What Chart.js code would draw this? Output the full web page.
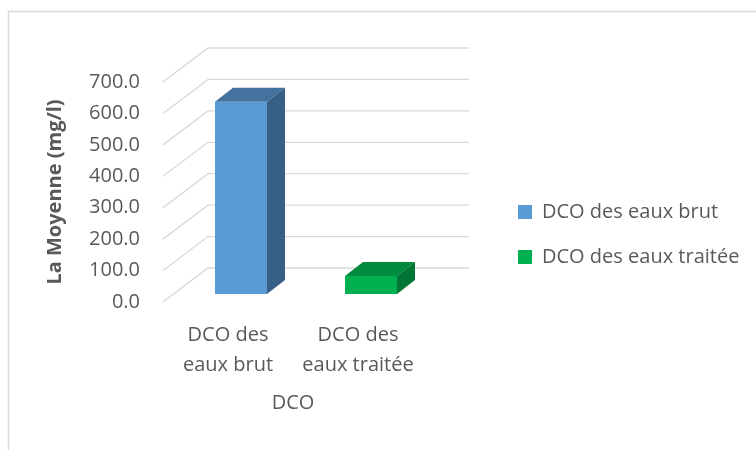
<!DOCTYPE html>
<html>
<head>
<meta charset="utf-8">
<script src="https://cdn.jsdelivr.net/npm/chart.js@4/dist/chart.umd.min.js"></script>
<style>
  html, body { margin: 0; padding: 0; background: #fff; }
  #wrap { width: 756px; height: 450px; }
</style>
</head>
<body>
<div id="wrap"><canvas id="dcoChart"></canvas></div>
<script>
// données
const categoryLabels = [["DCO des", "eaux brut"], ["DCO des", "eaux traitée"]];
const legendNames = ["DCO des eaux brut", "DCO des eaux traitée"];
const moyennes = [612, 57];
const yMin = 0;
const yMax = 700;
const yStep = 100;

// couleurs des faces (avant / dessus / côté)
const faceFront = ["#5b9bd5", "#00b050"];
const faceTop = ["#43729e", "#008a3e"];
const faceSide = ["#385f85", "#007535"];

const FONT = "'Open Sans', 'Liberation Sans', sans-serif";
const TXT = "#595959";
const GRID = "#d9d9d9";

// projection oblique : mur du fond, décalage des barres, profondeur des barres
const WALL_DX = 45, WALL_DY = -34, WALL_RIGHT = 469;
const BAR_SHIFT_X = 13, BAR_SHIFT_Y = -8;
const BAR_DX = 18, BAR_DY = -14;

const box3d = {
  id: "box3d",
  beforeDraw(chart) {
    const c = chart.ctx;
    c.save();
    c.strokeStyle = GRID;
    c.lineWidth = 1.5;
    c.beginPath();
    c.moveTo(8.5, 450);
    c.lineTo(8.5, 11.5);
    c.lineTo(756, 11.5);
    c.stroke();
    c.restore();
  },
  beforeDatasetsDraw(chart) {
    const c = chart.ctx;
    const y = chart.scales.y;
    const left = chart.chartArea.left;
    c.save();
    c.strokeStyle = GRID;
    c.lineWidth = 1.3;
    y.ticks.forEach(t => {
      const py = y.getPixelForValue(t.value);
      c.beginPath();
      c.moveTo(left, py);
      c.lineTo(left + WALL_DX, py + WALL_DY);
      c.lineTo(WALL_RIGHT, py + WALL_DY);
      c.stroke();
    });
    c.restore();
    // les barres sont un peu en retrait du plan avant
    c.save();
    c.translate(BAR_SHIFT_X, BAR_SHIFT_Y);
  },
  afterDatasetsDraw(chart) {
    const c = chart.ctx;
    chart.getDatasetMeta(0).data.forEach((bar, i) => {
      const { x, y, base, width } = bar.getProps(["x", "y", "base", "width"], true);
      const l = x - width / 2, r = x + width / 2;
      c.fillStyle = faceTop[i];
      c.beginPath();
      c.moveTo(l, y);
      c.lineTo(r, y);
      c.lineTo(r + BAR_DX, y + BAR_DY);
      c.lineTo(l + BAR_DX, y + BAR_DY);
      c.closePath();
      c.fill();
      c.fillStyle = faceSide[i];
      c.beginPath();
      c.moveTo(r, y);
      c.lineTo(r + BAR_DX, y + BAR_DY);
      c.lineTo(r + BAR_DX, base + BAR_DY);
      c.lineTo(r, base);
      c.closePath();
      c.fill();
    });
    c.restore();
  }
};

new Chart(document.getElementById("dcoChart"), {
  type: "bar",
  data: {
    labels: categoryLabels,
    datasets: [{
      data: moyennes,
      backgroundColor: faceFront,
      borderWidth: 0,
      categoryPercentage: 0.8,
      barPercentage: 0.5,
      clip: false
    }]
  },
  options: {
    responsive: true,
    maintainAspectRatio: false,
    animation: false,
    layout: { padding: { left: 10, top: 82, right: 8, bottom: 35 } },
    plugins: {
      tooltip: { enabled: false },
      legend: {
        position: "right",
        align: "start",
        maxWidth: 255,
        title: { display: true, text: "", font: { family: FONT, size: 20 }, padding: { top: 0, bottom: 71 } },
        labels: {
          boxWidth: 14,
          boxHeight: 14,
          padding: 25,
          color: TXT,
          font: { family: FONT, size: 20 },
          generateLabels: () => legendNames.map((name, i) => ({
            text: name,
            fillStyle: faceFront[i],
            strokeStyle: faceFront[i],
            lineWidth: 0,
            fontColor: TXT,
            hidden: false,
            index: i
          }))
        }
      }
    },
    scales: {
      x: {
        grid: { display: false, drawTicks: false },
        border: { display: false },
        ticks: {
          color: TXT,
          font: { family: FONT, size: 20, lineHeight: 1.5 },
          padding: 18,
          maxRotation: 0,
          autoSkip: false
        },
        title: {
          display: true,
          text: "DCO",
          color: TXT,
          font: { family: FONT, size: 20 },
          padding: { top: 11, bottom: 0 }
        },
        afterFit(s) { s.height = 113; }
      },
      y: {
        min: yMin,
        max: yMax,
        grid: { display: false, drawTicks: false },
        border: { display: false },
        ticks: {
          stepSize: yStep,
          color: TXT,
          font: { family: FONT, size: 20 },
          padding: 23,
          callback: v => v.toFixed(1)
        },
        title: {
          display: true,
          text: "La Moyenne (mg/l)",
          color: TXT,
          font: { family: FONT, size: 20, weight: "bold" },
          padding: { top: 33, bottom: 0 }
        },
        afterFit(s) { s.width = 153; }
      },
      y2: {
        position: "right",
        display: true,
        grid: { display: false, drawTicks: false },
        border: { display: false },
        ticks: { display: false },
        afterFit(s) { s.width = 70; }
      }
    }
  },
  plugins: [box3d]
});
</script>
</body>
</html>
